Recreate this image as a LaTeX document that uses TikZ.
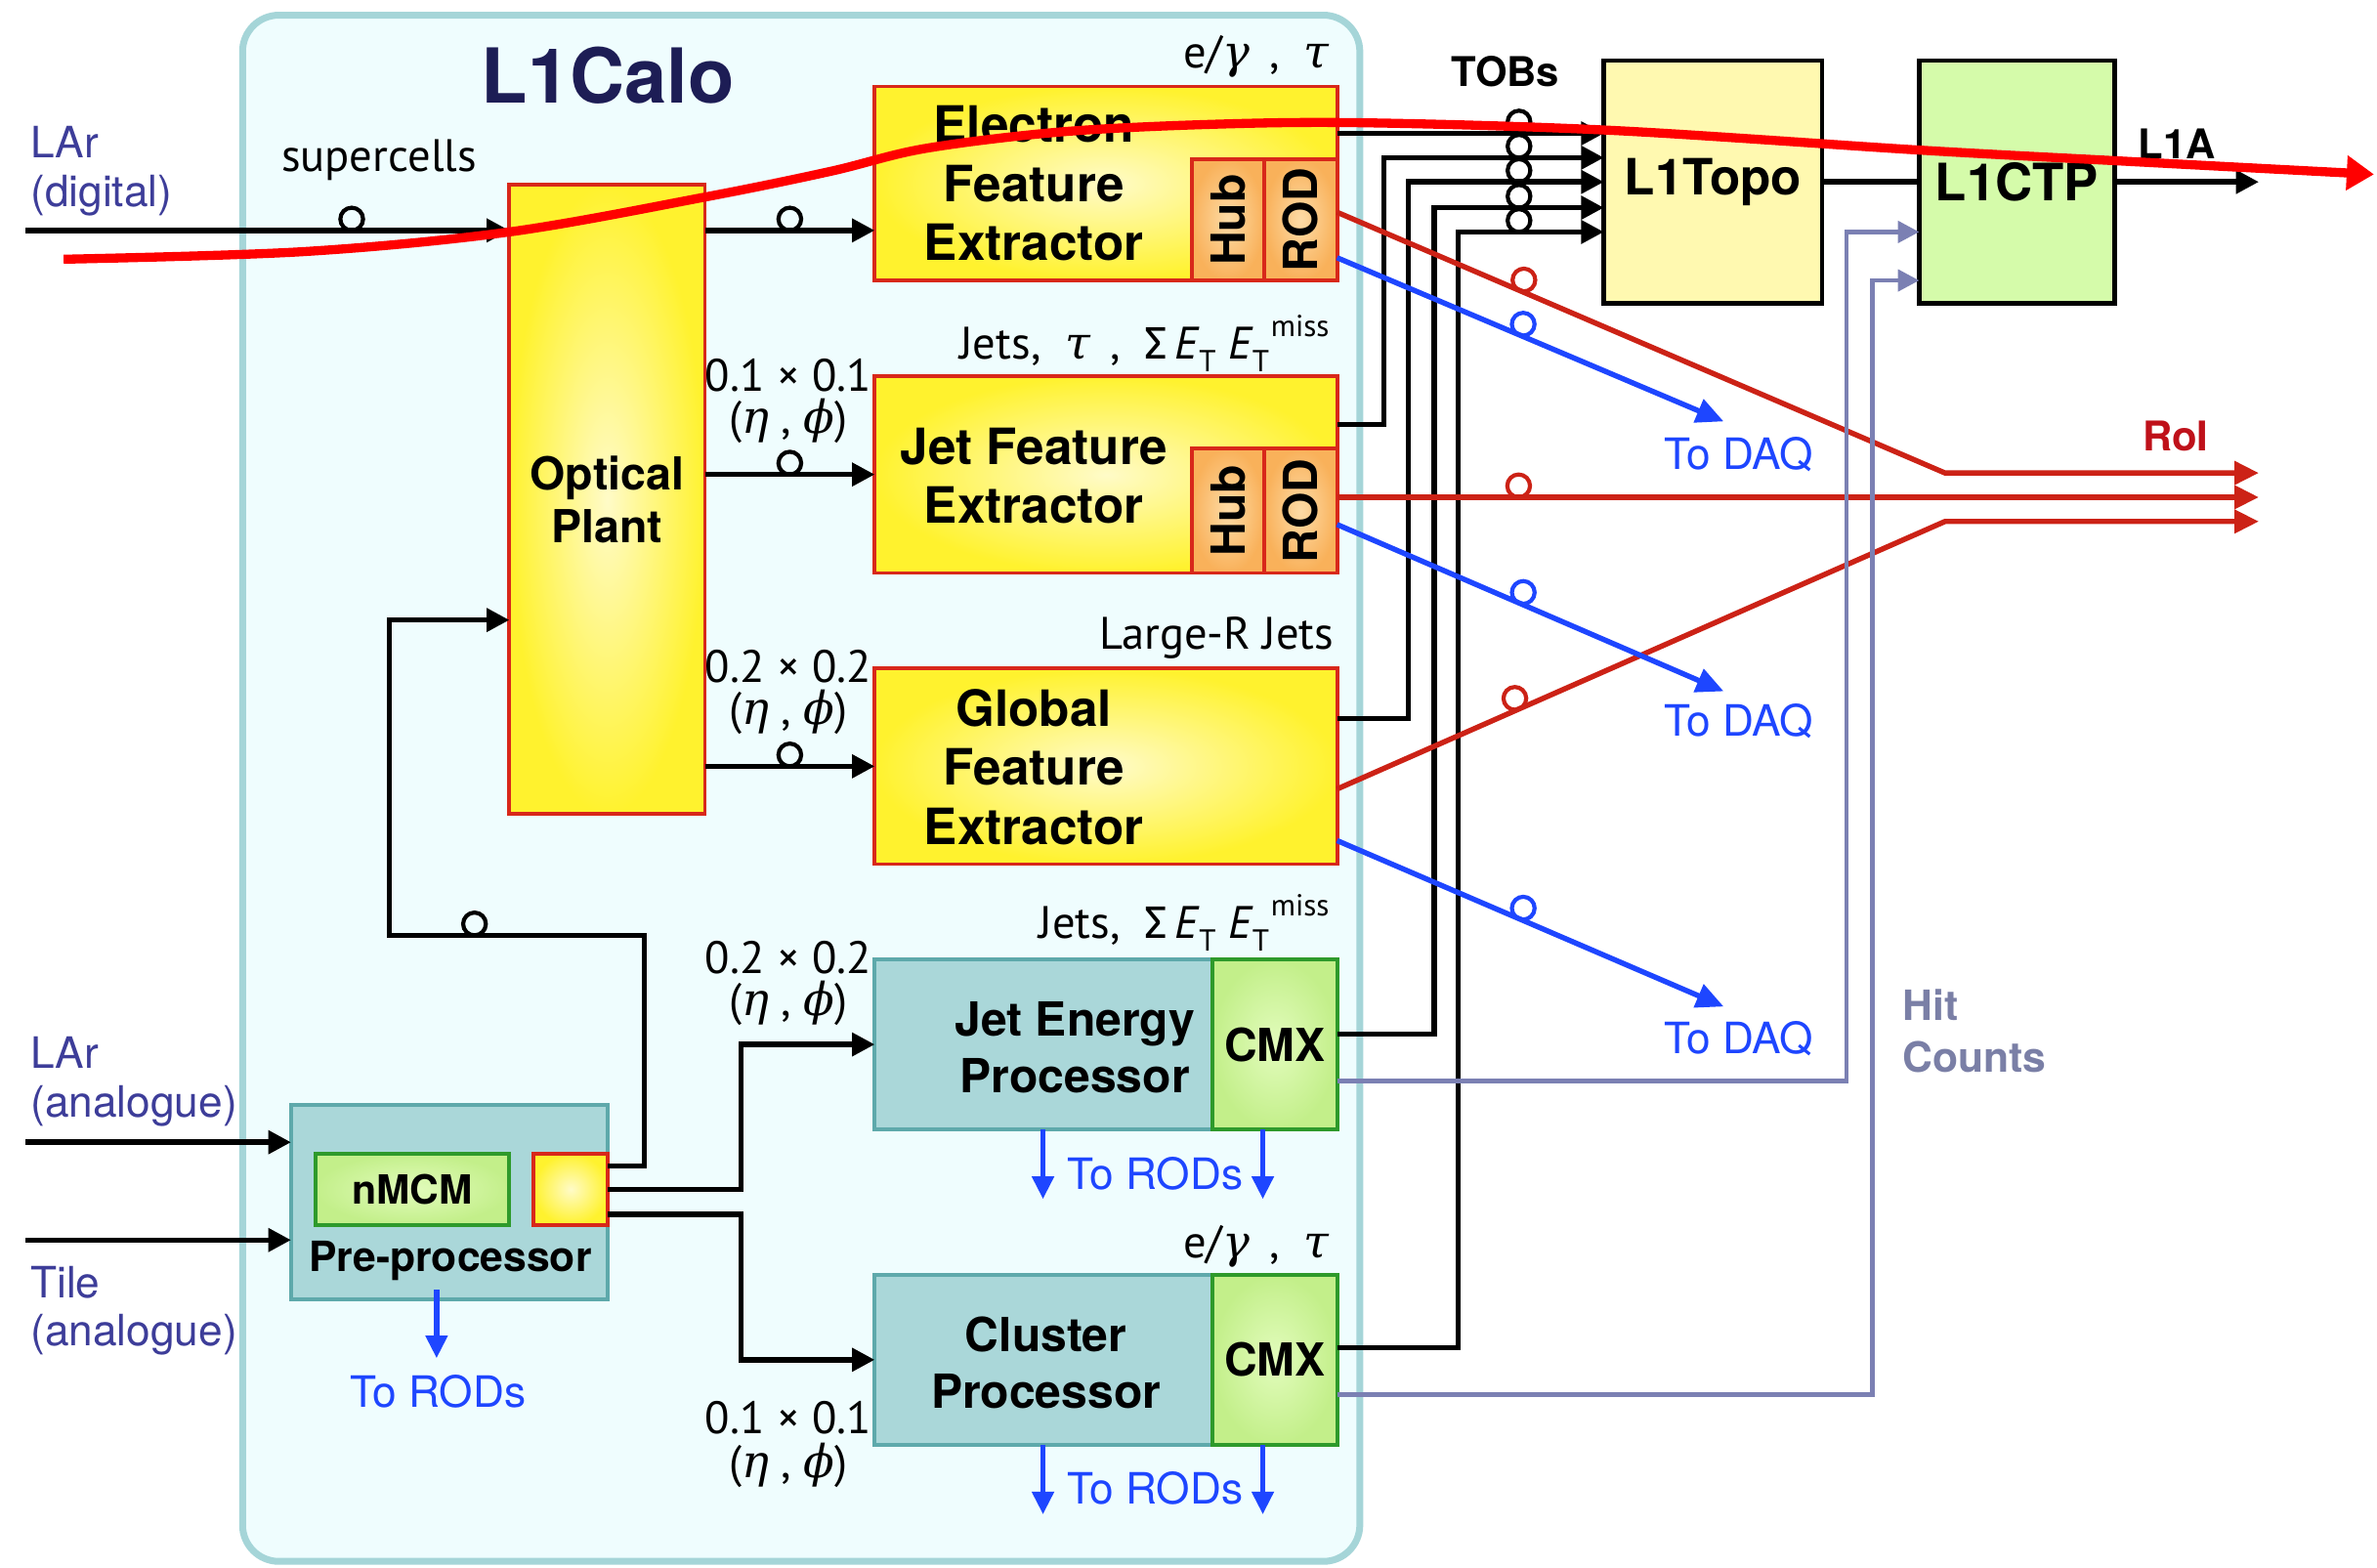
\documentclass[tikz,border=0pt]{standalone}
\usepackage{graphicx}
\usepackage{fontspec}
\setmainfont{TeX Gyre Heros}
\newfontfamily\labfont{PT Sans}
\newfontfamily\firafont{Fira Sans}
\newfontfamily\grkfont{DejaVu Serif}
\usetikzlibrary{arrows.meta,calc}
\definecolor{calobord}{HTML}{A5D5D8}
\definecolor{calofill}{HTML}{EFFDFE}
\definecolor{fexred}{HTML}{D8281A}
\definecolor{fexout}{HTML}{FFF22E}
\definecolor{fexin}{HTML}{FFFBC8}
\definecolor{orout}{HTML}{F9B15A}
\definecolor{orin}{HTML}{FDDBA6}
\definecolor{tealfill}{HTML}{AAD7D9}
\definecolor{tealbd}{HTML}{5EA9AB}
\definecolor{cmxbd}{HTML}{2E9A2B}
\definecolor{cmxout}{HTML}{C3EF8A}
\definecolor{cmxin}{HTML}{E2FCBC}
\definecolor{topofill}{HTML}{FFF9B0}
\definecolor{ctpfill}{HTML}{D5FBAA}
\definecolor{roired}{HTML}{CC2216}
\definecolor{daqblue}{HTML}{1E46FF}
\definecolor{hitcol}{HTML}{7B80B3}
\definecolor{inblue}{HTML}{3D3D99}
\definecolor{navy}{HTML}{1D1D55}
\definecolor{roitext}{HTML}{BF111A}
\definecolor{hittext}{HTML}{7A7FA6}
\definecolor{overred}{HTML}{FF0000}
\newcommand\gk[1]{{\grkfont\itshape #1}}
\newcommand\myET{{\labfont\itshape E}\kern0.02em\raisebox{-0.28em}{\fontsize{20}{20}\selectfont T}}
\newcommand\myETmiss{\myET\kern0.04em\raisebox{0.5em}{\fontsize{20}{20}\selectfont miss}}
\begin{document}
\begin{tikzpicture}[x=1pt,y=-1pt,
  box/.style={inner sep=0pt, outer sep=0pt, anchor=north west},
  fexbox/.style={box, draw=fexred, line width=2.5pt, inner color=fexin, outer color=fexout},
  hubbox/.style={box, draw=fexred, line width=2.5pt, inner color=orin, outer color=orout, font=\bfseries\fontsize{31}{32}\selectfont},
  tealbox/.style={box, draw=tealbd, fill=tealfill, line width=2.5pt},
  cmxbox/.style={box, draw=cmxbd, line width=2.5pt, inner color=cmxin, outer color=cmxout, font=\bfseries\fontsize{30}{36}\selectfont},
  blk/.style={font=\bfseries\fontsize{33}{39}\selectfont, align=center, inner sep=0pt},
  lbl/.style={font=\labfont\fontsize{30}{34}\selectfont, inner sep=0pt},
  inlbl/.style={font=\fontsize{28.5}{30}\selectfont, text=inblue, inner sep=0pt, anchor=base west},
  daqlbl/.style={font=\fontsize{28.5}{30}\selectfont, text=daqblue, inner sep=0pt},
  conn/.style={line width=3.5pt, -{Triangle[length=15pt,width=15pt]}},
  ring/.style={circle, draw, line width=2.7pt, minimum size=15pt, inner sep=0pt, outer sep=0pt, fill=none},
  roi/.style={roired, line width=3.5pt, -{Triangle[length=16pt,width=15pt]}},
  daq/.style={daqblue, line width=3.5pt, -{Triangle[length=18pt,width=16pt]}},
  rods/.style={daqblue, line width=3.5pt, -{Triangle[length=15pt,width=14pt]}},
  hit/.style={hitcol, line width=3pt, -{Triangle[length=14pt,width=14pt]}}
]
\path[use as bounding box, fill=white] (0,0) rectangle (1568,1034);

% L1Calo frame
\draw[draw=calobord, fill=calofill, line width=4.5pt, rounded corners=24pt] (160,10) rectangle (897,1030);
\node[font=\bfseries\fontsize{50}{60}\selectfont, text=navy] (title) at (401,50) {L1Calo};

% Optical plant
\node[fexbox, minimum width=129pt, minimum height=415pt] (op) at (336,122) {};
\node[blk, font=\bfseries\fontsize{30}{35}\selectfont] (optxt) at (op.center) {Optical\\Plant};

% eFEX
\node[fexbox, minimum width=305pt, minimum height=128pt] (efex) at (577,57) {};
\node[hubbox, minimum width=48pt, minimum height=80pt] (efexhub) at (786,105) {\rotatebox{90}{Hub}};
\node[hubbox, minimum width=48pt, minimum height=80pt] (efexrod) at (834,105) {\rotatebox{90}{ROD}};
\node[blk] (efextxt) at (682,121) {Electron\\Feature\\Extractor};

% jFEX
\node[fexbox, minimum width=305pt, minimum height=130pt] (jfex) at (577,248) {};
\node[hubbox, minimum width=48pt, minimum height=82pt] (jfexhub) at (786,296) {\rotatebox{90}{Hub}};
\node[hubbox, minimum width=48pt, minimum height=82pt] (jfexrod) at (834,296) {\rotatebox{90}{ROD}};
\node[blk] (jfextxt) at (682,314) {Jet Feature\\Extractor};

% gFEX
\node[fexbox, minimum width=305pt, minimum height=129pt] (gfex) at (577,441) {};
\node[blk] (gfextxt) at (682,506) {Global\\Feature\\Extractor};

% JEP
\node[tealbox, minimum width=305pt, minimum height=112pt] (jep) at (577,633) {};
\node[cmxbox, minimum width=82pt, minimum height=112pt] (jepcmx) at (800,633) {CMX};
\node[blk, font=\bfseries\fontsize{31}{37}\selectfont] (jeptxt) at (709,691) {Jet Energy\\Processor};

% CP
\node[tealbox, minimum width=305pt, minimum height=112pt] (cp) at (577,841) {};
\node[cmxbox, minimum width=82pt, minimum height=112pt] (cpcmx) at (800,841) {CMX};
\node[blk, font=\bfseries\fontsize{31}{37}\selectfont] (cptxt) at (690,899) {Cluster\\Processor};

% Pre-processor
\node[tealbox, minimum width=209pt, minimum height=128pt] (pre) at (192,729) {};
\node[cmxbox, minimum width=128pt, minimum height=47pt, font=\bfseries\fontsize{26.5}{30}\selectfont] (nmcm) at (208,761) {nMCM};
\node[fexbox, minimum width=49pt, minimum height=47pt] (ppy) at (352,761) {};
\node[blk, font=\bfseries\fontsize{27.5}{30}\selectfont] (pretxt) at (297,832) {Pre-processor};

% L1Topo, L1CTP
\node[box, draw=black, fill=topofill, line width=3pt, minimum width=144pt, minimum height=160pt, font=\bfseries\fontsize{33}{36}\selectfont] (topo) at (1058,40) {L1Topo};
\node[box, draw=black, fill=ctpfill, line width=3pt, minimum width=129pt, minimum height=160pt, font=\bfseries\fontsize{34}{36}\selectfont] (ctp) at (1266,40) {L1CTP};

% labels
\node[lbl, anchor=base] (lsc) at (250,113) {supercells};
\node[lbl, anchor=base east] (le1) at (877,45) {e/\gk{γ}\, , \ \gk{τ}};
\node[lbl, anchor=base east] (lj1) at (877,237) {Jets, \ \gk{τ}\, , \ {\firafont Σ}\,\myET\ \myETmiss};
\node[lbl, anchor=base east] (lg1) at (880,428) {Large-R Jets};
\node[lbl, anchor=base east] (lj2) at (877,619) {Jets, \ {\firafont Σ}\,\myET\ \myETmiss};
\node[lbl, anchor=base east] (le2) at (877,830) {e/\gk{γ}\, , \ \gk{τ}};
\node[lbl, anchor=base] (g1a) at (520,258) {0.1 × 0.1};
\node[lbl, anchor=base] (g1b) at (520,286) {(\gk{η} , \gk{ϕ})};
\node[lbl, anchor=base] (g2a) at (520,450) {0.2 × 0.2};
\node[lbl, anchor=base] (g2b) at (520,478) {(\gk{η} , \gk{ϕ})};
\node[lbl, anchor=base] (g3a) at (520,642) {0.2 × 0.2};
\node[lbl, anchor=base] (g3b) at (520,670) {(\gk{η} , \gk{ϕ})};
\node[lbl, anchor=base] (g4a) at (520,946) {0.1 × 0.1};
\node[lbl, anchor=base] (g4b) at (520,975) {(\gk{η} , \gk{ϕ})};

\node[inlbl] (in1a) at (20,104) {LAr};
\node[inlbl] (in1b) at (20,136) {(digital)};
\node[inlbl] (in2a) at (20,705) {LAr};
\node[inlbl] (in2b) at (20,737) {(analogue)};
\node[inlbl] (in3a) at (20,856) {Tile};
\node[inlbl] (in3b) at (20,888) {(analogue)};

\node[font=\bfseries\fontsize{27}{30}\selectfont] (ltob) at (993,47) {TOBs};
\node[font=\bfseries\fontsize{27}{30}\selectfont] (ll1a) at (1436,95) {L1A};
\node[font=\bfseries\fontsize{27}{30}\selectfont, text=roitext] (lroi) at (1435,288) {RoI};
\node[font=\bfseries\fontsize{27.5}{30}\selectfont, text=hittext, anchor=base west, inner sep=0pt] (lhit1) at (1255,673) {Hit};
\node[font=\bfseries\fontsize{27.5}{30}\selectfont, text=hittext, anchor=base west, inner sep=0pt] (lhit2) at (1255,707) {Counts};
\node[daqlbl] (ld1) at (1147,300) {To DAQ};
\node[daqlbl] (ld2) at (1147,476) {To DAQ};
\node[daqlbl] (ld3) at (1147,685) {To DAQ};
\node[daqlbl] (lr1) at (762,774) {To RODs};
\node[daqlbl] (lr2) at (762,982) {To RODs};
\node[daqlbl] (lr3) at (289,918) {To RODs};

% input to optical plant and FEXes
\coordinate (lardig) at (17,152);
\draw[conn] (lardig) -- node[ring, pos=0.674, anchor=south]{} (lardig -| op.west);
\draw[conn] (lardig -| op.east) -- node[ring, pos=0.5, anchor=south]{} (lardig -| efex.west);
\draw[conn] (op.east |- jfex.west) -- node[ring, pos=0.5, anchor=south]{} (jfex.west);
\draw[conn] (op.east |- gfex.west) -- node[ring, pos=0.5, anchor=south]{} (gfex.west);

% TOBs to L1Topo
\coordinate (xtob) at (1002,0);
\coordinate (e1) at ([yshift=33pt]efex.east);
\draw[conn] (e1) -- (e1 -| topo.west);
\coordinate (j1) at ([yshift=33pt]jfex.east);
\coordinate (j2) at (913,104);
\draw[conn] (j1) -| (j2) -- (j2 -| topo.west);
\coordinate (q1) at ([yshift=31.5pt]gfex.east);
\coordinate (q2) at (929,120);
\draw[conn] (q1) -| (q2) -- (q2 -| topo.west);
\coordinate (c1) at ([yshift=7pt]jepcmx.east);
\coordinate (c2) at (946,137);
\draw[conn] (c1) -| (c2) -- (c2 -| topo.west);
\coordinate (p1) at ([yshift=8pt]cpcmx.east);
\coordinate (p2) at (962,153);
\draw[conn] (p1) -| (p2) -- (p2 -| topo.west);
\foreach \c in {e1,j2,q2,c2,p2} \node[ring, anchor=south] at (xtob |- \c) {};

% L1Topo -> L1CTP -> L1A
\draw[line width=3.5pt] (topo.east) -- (ctp.west);
\coordinate (l1aend) at ([xshift=95pt]ctp.east);
\draw[conn] (ctp.east) -- (l1aend);

% RoI
\coordinate (rk1) at (1283,312);
\coordinate (rk3) at (1283,344);
\coordinate (re1) at (1490,312);
\coordinate (re2) at (1490,328);
\coordinate (re3) at (1490,344);
\draw[roi] ([yshift=5pt]efexrod.east) -- node[ring, pos=0.3, sloped, anchor=south]{} (rk1) -- (re1);
\draw[roi] (jfexrod.east |- re2) -- node[ring, pos=0.197, anchor=south]{} (re2);
\draw[roi] ([yshift=-15pt]gfex.east) -- node[ring, pos=0.3, sloped, anchor=south]{} (rk3) -- (re3);

% DAQ
\coordinate (d1) at (1137,278);
\coordinate (d2) at (1137,456);
\coordinate (d3) at (1137,664);
\draw[daq] ([yshift=-25pt]efexrod.east) -- node[ring, pos=0.47, sloped, anchor=south]{} (d1);
\draw[daq] ([yshift=-9pt]jfexrod.east) -- node[ring, pos=0.47, sloped, anchor=south]{} (d2);
\draw[daq] ([yshift=-49pt]gfex.east) -- node[ring, pos=0.47, sloped, anchor=south]{} (d3);

% Hit counts
\coordinate (h1) at (1218,153);
\coordinate (h2) at (1235,185);
\draw[hit] ([yshift=-24pt]jepcmx.east) -| (h1) -- (h1 -| ctp.west);
\draw[hit] ([yshift=-23pt]cpcmx.east) -| (h2) -- (h2 -| ctp.west);

% Pre-processor inputs and outputs
\coordinate (lara) at (17,753.5);
\coordinate (tilea) at (17,818);
\draw[conn] (lara) -- (lara -| pre.west);
\draw[conn] (tilea) -- (tilea -| pre.west);
\coordinate (o1) at ([yshift=15.5pt]ppy.east);
\coordinate (o1a) at (425,617);
\coordinate (o1b) at (257,409);
\draw[conn] (o1) -| (o1a) -| (o1b) -- (o1b -| op.west);
\node[ring, anchor=south] at (313,617) {};
\coordinate (o2) at (489,689);
\draw[conn] (ppy.east) -| (o2) -- (jep.west);
\coordinate (o3) at ([yshift=-16.5pt]ppy.east);
\coordinate (o3a) at (489,897);
\draw[conn] (o3) -| (o3a) -- (cp.west);

% To RODs
\coordinate (pr1) at (288,851);
\draw[rods] (pr1) -- ++(0,45);
\coordinate (jr1) at (688,745);
\coordinate (jr2) at (833,745);
\coordinate (cr1) at (688,953);
\coordinate (cr2) at (833,953);
\draw[rods] (jr1) -- ++(0,46);
\draw[rods] (jr2) -- ++(0,46);
\draw[rods] (cr1) -- ++(0,46);
\draw[rods] (cr2) -- ++(0,46);

% red overlay stroke
\draw[overred, line width=6pt, -{Triangle[length=18pt,width=22pt]}] plot[smooth, tension=0.55] coordinates {(42,171) (200,166) (336,153) (465,130) (548,113) (610,98) (700,87) (800,82) (900,81) (1063,86) (1266,99) (1395,106) (1566,115)};
\end{tikzpicture}
\end{document}
